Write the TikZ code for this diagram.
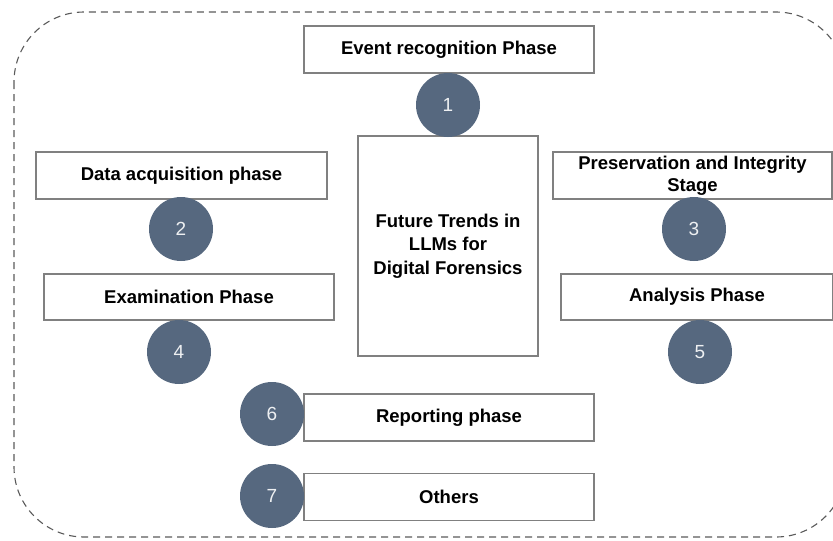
\documentclass[tikz,border=0pt]{standalone}
\usepackage{fontspec}
\setmainfont{Liberation Sans}
\usetikzlibrary{positioning}
\definecolor{slate}{RGB}{86,104,127}
\definecolor{boxline}{RGB}{128,128,128}
\definecolor{dashline}{RGB}{90,90,90}

\begin{document}
\begin{tikzpicture}
[x=1pt,y=-1pt,
phase/.style={draw=boxline,line width=1.3pt,fill=white,minimum height=47pt,inner sep=2pt,align=center,font=\bfseries\fontsize{18.5}{22}\selectfont},
bullet/.style={circle,fill=slate,inner sep=0pt,minimum size=64pt,text=white!90!slate,font=\fontsize{19}{19}\selectfont}]
\useasboundingbox (0,0) rectangle (833,541);

% outer frame, its right side runs off the page
\draw [dashline,line width=1.1pt,dash pattern=on 7pt off 5pt,rounded corners=70pt] (14,12) rectangle (846,537);

\node[phase,minimum width=290pt] (event) at (449,49.5) {Event recognition Phase};
\node[phase,minimum width=180pt,minimum height=220pt,font=\bfseries\fontsize{18.5}{23.5}\selectfont] (trends) at (448,246) {Future Trends in\\LLMs for\\Digital Forensics};
\node[phase,minimum width=291pt] (acq) at (181.5,175.5) {Data acquisition phase};
\node[phase,minimum width=279pt] (pres) at (692.5,175.5) {Preservation and Integrity\\Stage};
\node[phase,minimum width=290pt,minimum height=46pt] (exam) at (189,297) {Examination Phase};
\node[phase,minimum width=272pt,minimum height=46pt] (anal) at (697,297) {Analysis Phase};
\node[phase,minimum width=290pt] (report) at (449,417.5) {Reporting phase};
\node[phase,minimum width=290pt] (others) at (449,497) {Others};

\node[bullet] (c1) at (448,105) {1};
\node[bullet] (c2) at (181,229) {2};
\node[bullet] (c3) at (694,229) {3};
\node[bullet] (c4) at (179,352) {4};
\node[bullet] (c5) at (700,352) {5};
\node[bullet] (c6) at (272,414) {6};
\node[bullet] (c7) at (272,496) {7};
\end{tikzpicture}
\end{document}
